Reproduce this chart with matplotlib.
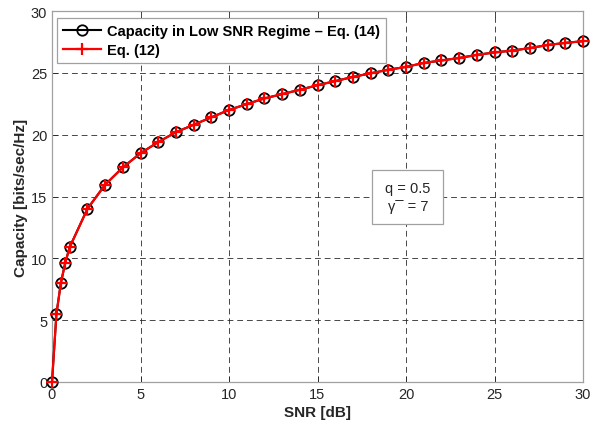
import matplotlib
matplotlib.use("Agg")
import matplotlib.pyplot as plt
from matplotlib.patches import Rectangle

snr_db = [0, 0.25, 0.5, 0.75, 1, 2, 3, 4, 5, 6, 7, 8, 9, 10, 11, 12, 13, 14, 15,
          16, 17, 18, 19, 20, 21, 22, 23, 24, 25, 26, 27, 28, 29, 30]
capacity_low_snr = [0, 5.5, 8.0, 9.65, 10.9, 14.0, 15.95, 17.35, 18.5, 19.4, 20.2,
                    20.8, 21.4, 22.0, 22.47, 22.93, 23.28, 23.63, 24.0, 24.33, 24.67,
                    24.96, 25.25, 25.48, 25.8, 26.0, 26.2, 26.45, 26.65, 26.8, 27.0,
                    27.25, 27.42, 27.56]
capacity_eq12 = list(capacity_low_snr)

x_ticks = [0, 5, 10, 15, 20, 25, 30]
y_ticks = [0, 5, 10, 15, 20, 25, 30]

plt.rcParams['font.family'] = ['Liberation Sans', 'DejaVu Sans']

fig = plt.figure(figsize=(5.93, 4.31), dpi=100)
ax = fig.add_axes([52/593, 48/431, 531/593, 371/431])

ax.plot(snr_db, capacity_low_snr, color='black', lw=1.5, marker='o', ms=7.5,
        mfc='none', mec='black', mew=1.3, clip_on=False,
        label='Capacity in Low SNR Regime \u2013 Eq. (14)', zorder=3)
ax.plot(snr_db, capacity_eq12, color='#ff0000', lw=1.6, marker='+', ms=9,
        mew=1.6, clip_on=False, label='Eq. (12)', zorder=4)

ax.set_xlim(0, 30)
ax.set_ylim(0, 30)
ax.set_xticks(x_ticks)
ax.set_yticks(y_ticks)
ax.tick_params(direction='in', length=4, colors='#262626', labelsize=10.5,
               top=True, right=True, width=0.6)
for s in ax.spines.values():
    s.set_color('#a0a0a0')
    s.set_linewidth(0.9)
ax.grid(True, color='#262626', linestyle=(0, (6, 4)), linewidth=0.7, alpha=0.85)
ax.set_axisbelow(True)

ax.set_xlabel('SNR [dB]', fontsize=11, fontweight='bold', color='#262626', labelpad=3)
ax.set_ylabel('Capacity [bits/sec/Hz]', fontsize=11, fontweight='bold', color='#262626', labelpad=2)

leg = ax.legend(loc='upper left', bbox_to_anchor=(0.0, 0.995), fancybox=False,
                framealpha=1, edgecolor='#a0a0a0', prop={'weight': 'bold', 'size': 10.5},
                borderpad=0.4, labelspacing=0.35, handlelength=2.6, handletextpad=0.4,
                borderaxespad=0.35)
leg.get_frame().set_linewidth(0.9)
leg.set_zorder(10)

rect = Rectangle((18.1, 12.8), 4.0, 4.35, facecolor='white', edgecolor='#a0a0a0',
                 lw=0.9, zorder=5)
ax.add_patch(rect)
ax.text(20.1, 15.7, 'q = 0.5', ha='center', va='center', fontsize=10.5,
        color='#262626', zorder=6)
ax.text(20.1, 14.2, '\u03b3\u00af = 7', ha='center', va='center', fontsize=10.5,
        color='#262626', zorder=6)

fig.savefig('out.png', dpi=100)
